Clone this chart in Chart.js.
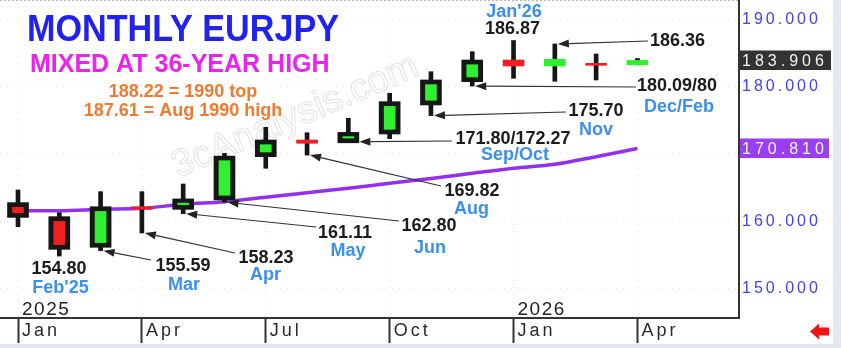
<!DOCTYPE html>
<html><head><meta charset="utf-8">
<script src="https://cdn.jsdelivr.net/npm/chart.js@4"></script>
<style>html,body{margin:0;padding:0;background:#fff;overflow:hidden}canvas{display:block}</style>
</head><body>
<canvas id="c" width="841" height="348"></canvas>
<script>
// ---------- DATA ----------
const months = ["Jan'25","Feb'25","Mar'25","Apr'25","May'25","Jun'25","Jul'25","Aug'25","Sep'25","Oct'25","Nov'25","Dec'25","Jan'26","Feb'26","Mar'26","Apr'26"];
const opens  = [162.05,159.96,156.80,162.14,162.45,163.84,170.28,172.07,172.35,173.66,177.98,181.44,183.97,183.08,183.48,183.25];
const highs  = [164.63,161.25,164.38,164.38,165.52,170.09,173.96,173.15,175.30,179.02,182.23,185.21,186.87,186.36,184.87,184.20];
const lows   = [159.17,154.80,155.59,158.23,161.11,162.80,167.86,169.82,171.80,172.27,175.70,180.09,181.25,180.80,181.00,183.25];
const closes = [161.25,156.50,161.44,161.76,162.60,168.99,171.37,171.58,172.50,177.07,180.30,183.27,183.08,184.08,183.18,183.906];
const maValues = [161.55,161.55,161.76,161.90,162.50,162.89,163.54,164.23,164.88,165.63,166.34,167.11,167.86,168.45,169.58,170.81];
const xTickValues = [0,3,6,9,12,15];
const xTickLabels = ['Jan','Apr','Jul','Oct','Jan','Apr'];
const yTickValues = [150,160,170,180,190];
const yearLabels = [{i:0, t:'2025'},{i:12, t:'2026'}];

// ---------- STYLE ----------
const GREEN = '#2ef02e', RED = '#f02020', INK = '#161616';
const BLACK = '#1c1c1c', BLUE = '#3a8ff2';
const BOXED = [0,1,2,4,5,6,8,9,10,11];   // candles drawn with black outlined body
const PAD = 0.7;
const FONT = '"Liberation Sans", Arial, sans-serif';

const idx = months.map((m,i)=>i);
const wickData = idx.map(i=>({x:i, y:[lows[i], highs[i]]}));
const outlineData = BOXED.map(i=>({x:i, y:[Math.min(opens[i],closes[i])-PAD, Math.max(opens[i],closes[i])+PAD]}));
const boxFillData = BOXED.map(i=>({x:i, y:[opens[i], closes[i]]}));
const dashFillData = idx.filter(i=>!BOXED.includes(i)).map(i=>({x:i, y:[opens[i], closes[i]]}));
const maData = idx.map(i=>({x:i, y:maValues[i]}));
const candleColor = c => closes[c.raw.x] >= opens[c.raw.x] ? GREEN : RED;

const notes = [
  {t:'154.80', c:BLACK, x:59,  y:269.5},
  {t:"Feb'25", c:BLUE,  x:60.5,y:288},
  {t:'155.59', c:BLACK, x:183, y:266, a:{i:2, k:'l', dx:3, tx:151, ty:260}},
  {t:'Mar',    c:BLUE,  x:184, y:285},
  {t:'158.23', c:BLACK, x:266, y:258, a:{i:3, k:'l', dx:3, tx:235, ty:253}},
  {t:'Apr',    c:BLUE,  x:265.5,y:275},
  {t:'161.11', c:BLACK, x:345, y:233, a:{i:4, k:'l', dx:3, tx:316, ty:227}},
  {t:'May',    c:BLUE,  x:348, y:251.5},
  {t:'162.80', c:BLACK, x:429, y:226, a:{i:5, k:'l', dx:3, tx:399, ty:221}},
  {t:'Jun',    c:BLUE,  x:430, y:248},
  {t:'169.82', c:BLACK, x:472, y:191.5, a:{i:7, k:'l', dx:3, tx:441, ty:186}},
  {t:'Aug',    c:BLUE,  x:471.5,y:209},
  {t:'171.80/172.27', c:BLACK, x:513, y:139, a:{i:8, k:'l', dx:11, tx:452, ty:141}},
  {t:'Sep/Oct',c:BLUE,  x:515, y:155.5},
  {t:'175.70', c:BLACK, x:596, y:111, a:{i:10, k:'l', dx:3, tx:566, ty:112}},
  {t:'Nov',    c:BLUE,  x:596, y:130},
  {t:'180.09/80', c:BLACK, x:677, y:86, a:{i:11, k:'l', dx:3, tx:636, ty:87}},
  {t:'Dec/Feb',c:BLUE,  x:679, y:107.5},
  {t:'186.36', c:BLACK, x:677.5, y:41.3, a:{i:13, k:'h', dx:3, tx:648, ty:41}},
  {t:'186.87', c:BLACK, x:512.5, y:29.5},
  {t:"Jan'26", c:BLUE,  x:514, y:12.5}
];

function arrow(ctx, x1, y1, x2, y2){
  ctx.save();
  ctx.strokeStyle = '#333'; ctx.fillStyle = '#222'; ctx.lineWidth = 1.2;
  const ang = Math.atan2(y2-y1, x2-x1), L = 11, W = 4;
  const bx = x2 - L*Math.cos(ang), by = y2 - L*Math.sin(ang);
  ctx.beginPath(); ctx.moveTo(x1,y1); ctx.lineTo(bx,by); ctx.stroke();
  ctx.beginPath(); ctx.moveTo(x2,y2);
  ctx.lineTo(bx + W*Math.sin(ang), by - W*Math.cos(ang));
  ctx.lineTo(bx - W*Math.sin(ang), by + W*Math.cos(ang));
  ctx.closePath(); ctx.fill();
  ctx.restore();
}

function priceBox(ctx, yScale, value, bg, w){
  const y = yScale.getPixelForValue(value);
  ctx.save();
  ctx.fillStyle = bg; ctx.fillRect(740, Math.round(y)-9.5, w, 19.5);
  ctx.fillStyle = '#f4f4f4'; ctx.font = '16px ' + FONT;
  ctx.letterSpacing = '4px';
  ctx.textBaseline = 'middle'; ctx.textAlign = 'left';
  ctx.fillText(value.toFixed(3), 742, y + 1);
  ctx.restore();
}

const decor = {
  id:'decor',
  beforeDraw(chart){
    const ctx = chart.ctx;
    ctx.save();
    ctx.fillStyle = '#ffffff'; ctx.fillRect(0,0,841,348);
    ctx.fillStyle = '#e2e8f0'; ctx.fillRect(833,0,8,348); ctx.fillRect(0,344,841,4);
    ctx.strokeStyle = '#b8b8b8'; ctx.setLineDash([2,2]); ctx.lineWidth = 1;
    ctx.beginPath(); ctx.moveTo(0,0.5); ctx.lineTo(739,0.5); ctx.stroke();
    ctx.restore();
    ctx.letterSpacing = '3px';
  },
  beforeDatasetsDraw(chart){
    const ctx = chart.ctx;
    ctx.letterSpacing = '0px';
    // watermark
    ctx.save();
    ctx.translate(178, 178); ctx.rotate(-23*Math.PI/180);
    ctx.font = '38px ' + FONT; ctx.strokeStyle = '#e3e3e3'; ctx.lineWidth = 1;
    ctx.strokeText('3cAnalysis.com', 0, 0);
    ctx.restore();
    // year labels
    const xs = chart.scales.x;
    ctx.save();
    ctx.font = '19px ' + FONT; ctx.fillStyle = '#222'; ctx.letterSpacing = '1.5px';
    ctx.textBaseline = 'alphabetic';
    yearLabels.forEach(yl => ctx.fillText(yl.t, xs.getPixelForValue(yl.i) + 4, 315));
    ctx.restore();
  },
  afterDraw(chart){
    const ctx = chart.ctx, xs = chart.scales.x, ys = chart.scales.y;
    ctx.letterSpacing = '0px';
    ctx.save();
    // titles
    ctx.textBaseline = 'alphabetic'; ctx.textAlign = 'left';
    ctx.fillStyle = '#2222ee'; ctx.font = 'bold 36px ' + FONT;
    ctx.fillText('MONTHLY EURJPY', 27, 41, 312);
    ctx.fillStyle = '#ee22ee'; ctx.font = 'bold 25px ' + FONT;
    ctx.fillText('MIXED AT 36-YEAR HIGH', 30, 72, 307);
    ctx.fillStyle = '#f2792e'; ctx.font = 'bold 18px ' + FONT; ctx.textAlign = 'center';
    ctx.fillText('188.22 = 1990 top', 183, 97);
    ctx.fillText('187.61 = Aug 1990 high', 183, 115.5);
    // annotations
    notes.forEach(n => {
      if (n.a){
        const v = n.a.k === 'l' ? lows[n.a.i] : highs[n.a.i];
        arrow(ctx, n.a.tx, n.a.ty, xs.getPixelForValue(n.a.i) + n.a.dx, ys.getPixelForValue(v));
      }
    });
    ctx.font = 'bold 18px ' + FONT; ctx.textAlign = 'center'; ctx.textBaseline = 'middle';
    notes.forEach(n => { ctx.fillStyle = n.c; ctx.fillText(n.t, n.x, n.y); });
    ctx.restore();
    // price boxes
    priceBox(ctx, ys, closes[closes.length-1], '#333333', 91);
    priceBox(ctx, ys, maValues[maValues.length-1], '#9a3ff0', 89);
    // red arrow
    ctx.save();
    ctx.fillStyle = '#ee1515';
    ctx.beginPath();
    ctx.moveTo(810, 331.5); ctx.lineTo(819, 323.5); ctx.lineTo(819, 327.5); ctx.lineTo(829, 327.5);
    ctx.lineTo(829, 335.5); ctx.lineTo(819, 335.5); ctx.lineTo(819, 339.5); ctx.closePath(); ctx.fill();
    ctx.restore();
  }
};

new Chart(document.getElementById('c'), {
  type: 'bar',
  data: {
    datasets: [
      {type:'line', data: maData, borderColor:'#9330ee', borderWidth:3.5, pointRadius:0, tension:0.4, cubicInterpolationMode:'monotone', order:10},
      {data: wickData, backgroundColor: INK, barThickness: 4, grouped:false, order:5},
      {data: outlineData, backgroundColor: INK, barThickness: 21, grouped:false, order:4},
      {data: boxFillData, backgroundColor: candleColor, barThickness: 11, minBarLength: 1.5, grouped:false, order:3},
      {data: dashFillData, backgroundColor: candleColor, barThickness: 21, minBarLength: 2, grouped:false, order:2}
    ]
  },
  options: {
    responsive:false, animation:false, devicePixelRatio:1,
    layout:{padding:{left:0, top:0, right:8, bottom:5}},
    plugins:{legend:{display:false}, tooltip:{enabled:false}},
    scales:{
      x:{
        type:'linear', position:'bottom', min:-0.436, max:17.46, offset:false,
        afterBuildTicks: s => { s.ticks = xTickValues.map(v=>({value:v})); },
        afterFit: s => { s.height = 25; s.paddingLeft = 0; s.paddingRight = 0; },
        ticks:{ callback:(v,i)=>xTickLabels[i], align:'start', labelOffset:4, padding:-23, maxRotation:0, minRotation:0, autoSkip:false,
          color:'#2a2a2a', font:{family:FONT, size:18} },
        grid:{ offset:false, color:'rgba(0,0,0,0.10)', drawOnChartArea:true, drawTicks:true, tickLength:25, tickColor:'#333', tickWidth:2, tickBorderDash:[] },
        border:{ display:true, color:'#333', width:2, dash:[1,6] }
      },
      y:{
        type:'linear', position:'right', min:145.58, max:192.9,
        afterBuildTicks: s => { s.ticks = yTickValues.map(v=>({value:v})); },
        afterFit: s => { s.width = 94; s.paddingTop = 0; s.paddingBottom = 0; },
        ticks:{ callback:v=>v.toFixed(3), padding:3, color:'#4242f2', font:{family:FONT, size:16} },
        grid:{ color:'rgba(0,0,0,0.10)', drawTicks:false },
        border:{ display:true, color:'#333', width:2, dash:[1,6] }
      }
    }
  },
  plugins:[decor]
});
</script>
</body></html>
